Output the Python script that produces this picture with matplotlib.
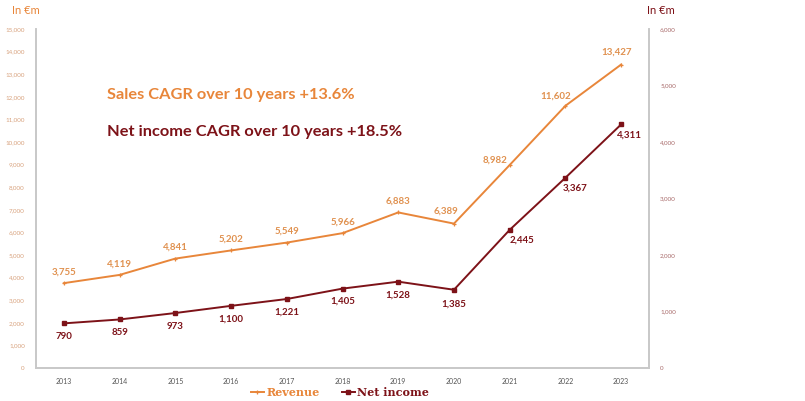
import numpy as np
import matplotlib.pyplot as plt

years = ['2013', '2014', '2015', '2016', '2017', '2018', '2019', '2020', '2021', '2022', '2023']
revenue = [3755, 4119, 4841, 5202, 5549, 5966, 6883, 6389, 8982, 11602, 13427]
net_income = [790, 859, 973, 1100, 1221, 1405, 1528, 1385, 2445, 3367, 4311]

# label offsets in pixels (dx, dy)
rev_off = [(0, 11), (0, 11), (0, 11), (0, 11), (0, 11), (0, 11), (0, 11),
           (-8, 12), (-15, 5), (-10, 10), (-5, 12)]
ni_off = [(0, -13), (0, -13), (0, -13), (0, -13), (0, -13), (0, -13), (0, -13),
          (0, -14), (12, -10), (10, -10), (8, -11)]

orange = '#E8863A'
maroon = '#7D1218'
grey = '#C8C8C8'

plt.rcParams['font.family'] = ['Lato', 'DejaVu Sans']

fig = plt.figure(figsize=(8.05, 4.01), dpi=100)
ax1 = fig.add_axes([36 / 805, 33 / 401, 613 / 805, 339 / 401])
ax2 = ax1.twinx()

x = np.arange(len(years))
l1, = ax1.plot(x, revenue, color=orange, lw=1.4, marker='+', ms=3.5, mew=0.9)
l2, = ax2.plot(x, net_income, color=maroon, lw=1.4, marker='s', ms=2.2)

ax1.set_xlim(-0.5, len(years) - 0.5)
ax1.set_ylim(0, 15000)
ax2.set_ylim(0, 6000)
ax1.set_yticks(np.arange(0, 15001, 1000))
ax2.set_yticks(np.arange(0, 6001, 1000))
ax1.yaxis.set_major_formatter(plt.FuncFormatter(lambda v, p: f'{int(v):,}'))
ax2.yaxis.set_major_formatter(plt.FuncFormatter(lambda v, p: f'{int(v):,}'))
ax1.set_xticks(x)
ax1.set_xticklabels(years)

for a in (ax1, ax2):
    a.spines['top'].set_visible(False)
    for s in ('left', 'right', 'bottom'):
        a.spines[s].set_color(grey)
        a.spines[s].set_linewidth(1.2)
    a.tick_params(length=0)
ax1.tick_params(axis='y', labelsize=4.5, labelcolor='#D8A27E', pad=8)
ax2.tick_params(axis='y', labelsize=4.5, labelcolor='#A86A6A', pad=8)
ax1.tick_params(axis='x', labelsize=5, labelcolor='#555555', pad=7)

for i in range(len(years)):
    ax1.annotate(f'{revenue[i]:,}', (x[i], revenue[i]), xytext=rev_off[i],
                 textcoords='offset pixels', ha='center', va='center',
                 fontsize=7, fontweight='bold', color='#E0914F')
    ax2.annotate(f'{net_income[i]:,}', (x[i], net_income[i]), xytext=ni_off[i],
                 textcoords='offset pixels', ha='center', va='center',
                 fontsize=7, fontweight='bold', color=maroon)

fig.text(107 / 805, 1 - 95 / 401, 'Sales CAGR over 10 years +13.6%', color=orange,
         fontsize=11.8, fontweight='bold', va='center')
fig.text(107 / 805, 1 - 132 / 401, 'Net income CAGR over 10 years +18.5%', color=maroon,
         fontsize=11.8, fontweight='bold', va='center')

fig.text(12 / 805, 1 - 11 / 401, 'In €m', color=orange, fontsize=8, va='center')
fig.text(647 / 805, 1 - 11 / 401, 'In €m', color=maroon, fontsize=8, va='center')

leg = fig.legend([l1, l2], ['Revenue', 'Net income'], loc='center', ncol=2,
                 bbox_to_anchor=(340 / 805, 1 - 392 / 401), frameon=False,
                 handlelength=1.2, handletextpad=0.2, columnspacing=2.0,
                 prop={'family': 'DejaVu Serif', 'weight': 'bold', 'size': 8})
for t, c in zip(leg.get_texts(), (orange, maroon)):
    t.set_color(c)

fig.savefig('out.png', dpi=100)
